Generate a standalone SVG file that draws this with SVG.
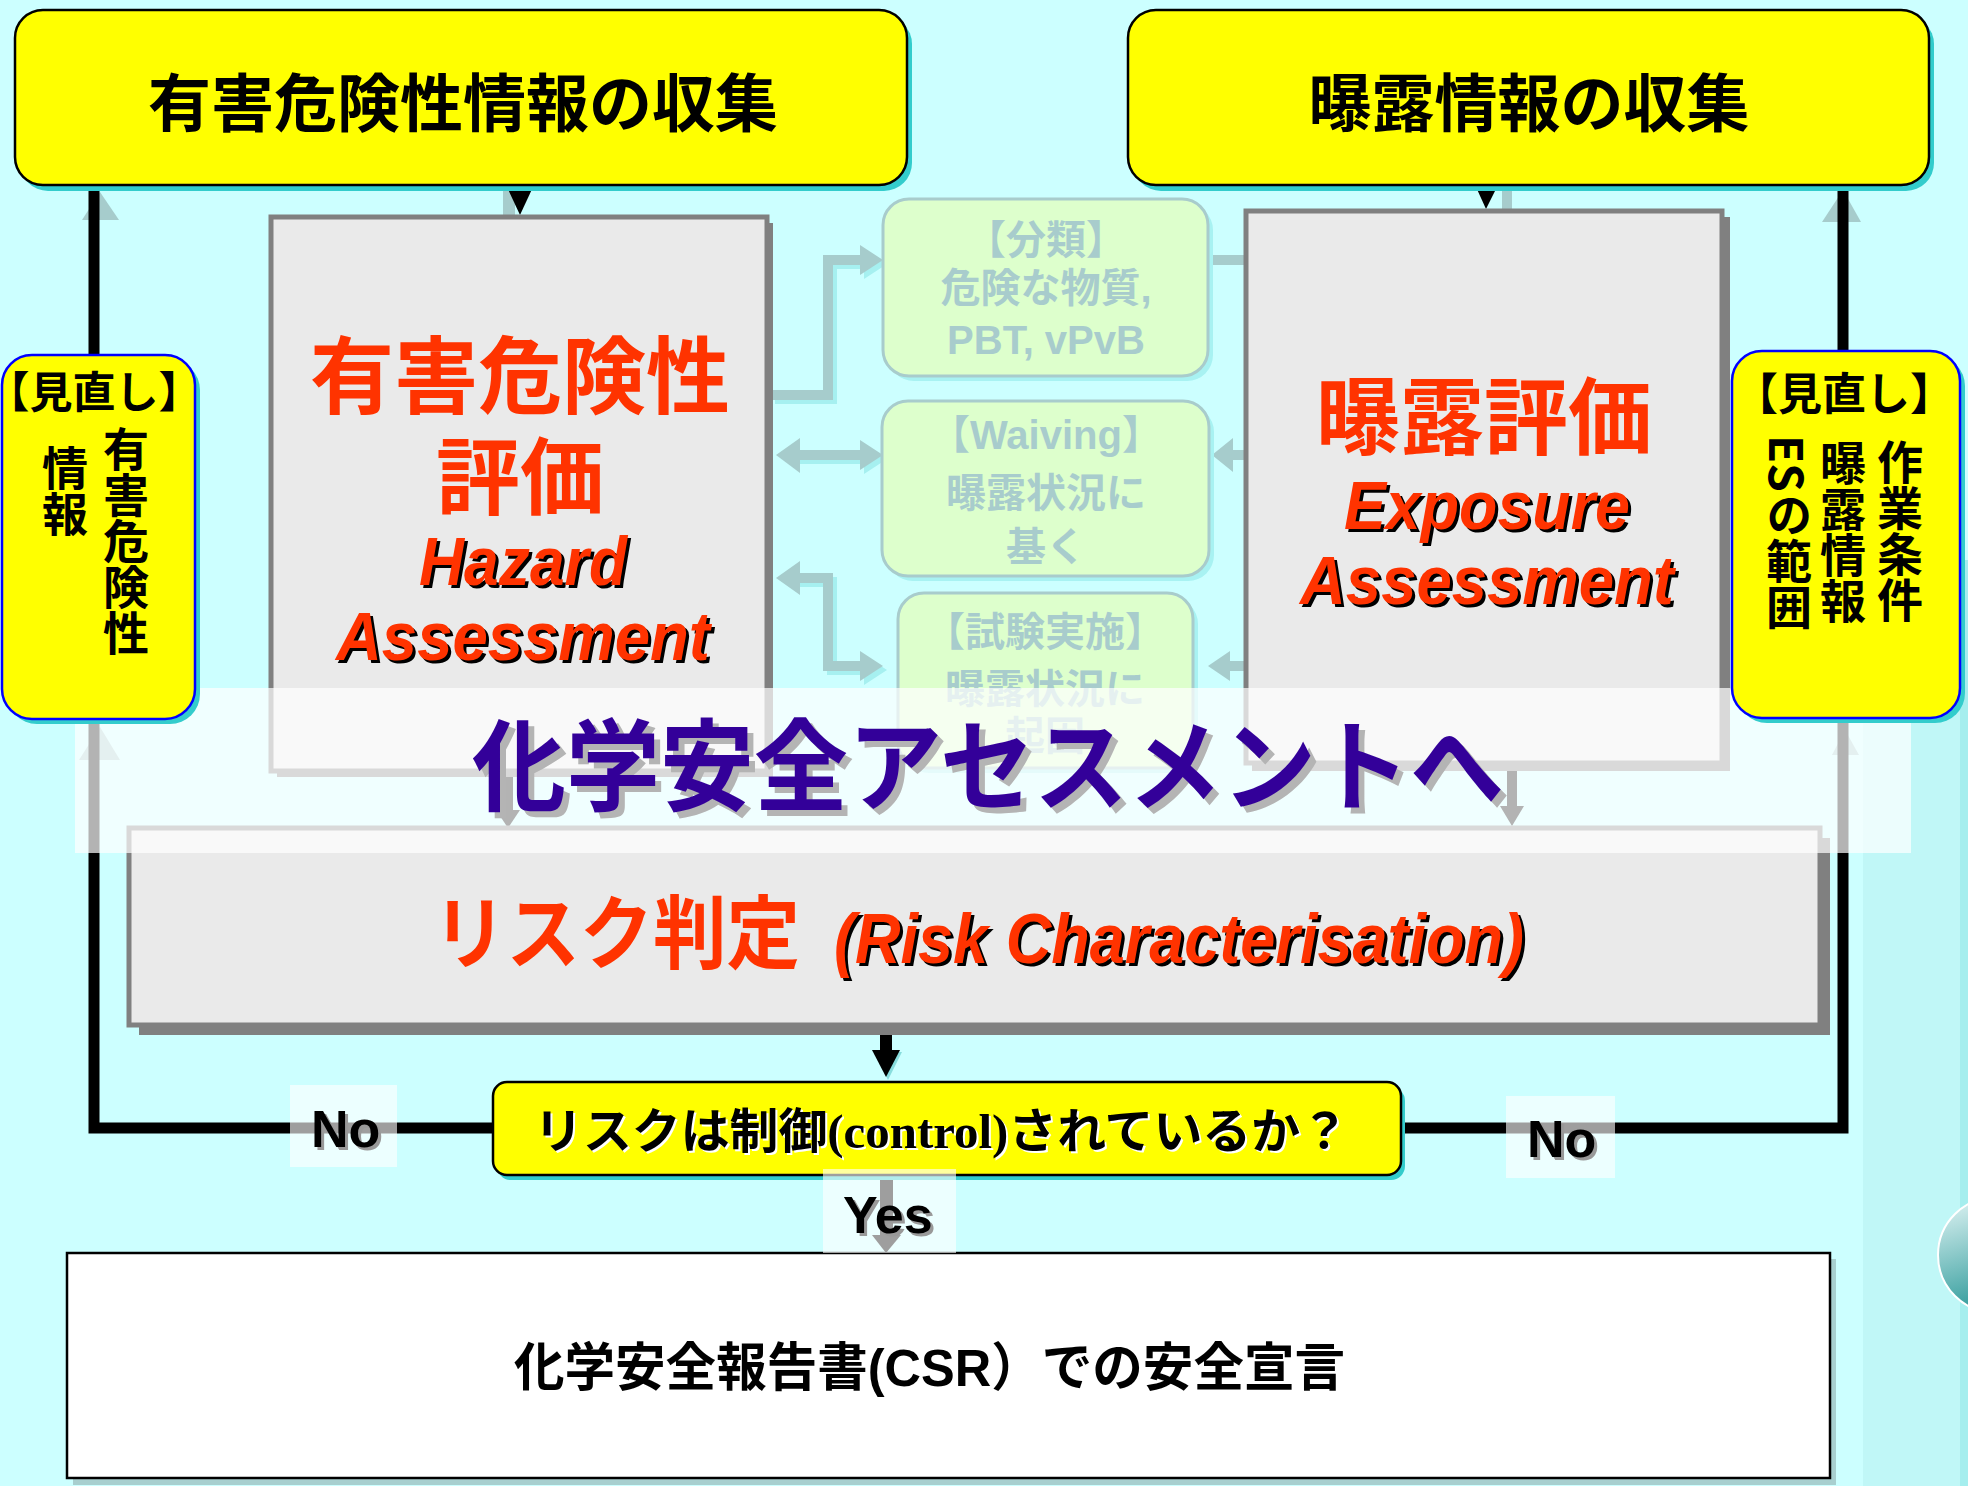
<svg xmlns="http://www.w3.org/2000/svg" width="1968" height="1486" viewBox="0 0 1968 1486">
<defs>
<style>
.ybox{fill:#FFFF00;stroke:#000;stroke-width:2.5}
.tsh{fill:#33CCCC}
.rbox{fill:#FFFF00;stroke:#0000FF;stroke-width:2.5}
.gbox{fill:#EAEAEA;stroke:#808080;stroke-width:5}
.gsh{fill:#808080}
.lbox{fill:#DDFFCC;stroke:#A8CCCC;stroke-width:3}
.lsh{fill:#A8F2F2}
.t{font-family:"Liberation Sans","Noto Sans CJK JP","Noto Sans CJK SC",sans-serif;font-weight:700}
.en{font-family:"Liberation Sans",Arial,sans-serif;font-weight:700;font-style:italic}
.red{fill:#FF3300}
.fade{fill:#A8CCCC;font-size:40px}
.vt{writing-mode:vertical-rl;font-family:"Noto Sans CJK JP","Noto Sans CJK SC",sans-serif;font-weight:700;font-size:46px;fill:#000}
.conn{fill:none;stroke:#000;stroke-width:11}
.fc{fill:none;stroke:#A6CCCC;stroke-width:10}
.fcs{fill:none;stroke:#A6F0F0;stroke-width:10}
.fh{fill:#A6CCCC}
.fhs{fill:#A6F0F0}
.lab{fill:#FFFFFF;fill-opacity:0.62}
.lt{font-family:"Liberation Sans",Arial,sans-serif;font-weight:700;font-size:52px}
</style>
<linearGradient id="ball" x1="0" y1="0" x2="0.3" y2="1"><stop offset="0" stop-color="#E6F7F7"/><stop offset="1" stop-color="#2E9A9A"/></linearGradient>
</defs>

<rect x="0" y="0" width="1968" height="1486" fill="#CCFFFF"/>
<rect x="1863" y="560" width="105" height="926" fill="#C0F7F7"/>
<rect x="1960" y="560" width="8" height="926" fill="#A5EEEE"/>
<circle cx="1996" cy="1255" r="58" fill="url(#ball)" stroke="#FFFFFF" stroke-width="2"/>

<g id="connectors">
  <polygon points="82,220 100,192 119,220" class="fh"/>
  <polygon points="1822,222 1843,190 1861,222" class="fh"/>
  <polygon points="79,760 100,727 120,760" class="fh"/>
  <polygon points="1832,755 1845,730 1859,755" class="fh"/>
  <rect x="503" y="186" width="12" height="31" class="fh"/>
  <rect x="1502" y="186" width="10" height="25" class="fh"/>
  <path d="M493 1128 H94 V186" class="conn"/>
  <path d="M1401 1128 H1843 V186" class="conn"/>
  <polygon points="507,187 533,187 520,215" fill="#000"/>
  <polygon points="1476,187 1497,187 1486,209" fill="#000"/>
  <path d="M775 399 H832 V264 H866" class="fcs"/>
  <polygon points="864,249 887,264 864,279" class="fhs"/>
  <path d="M771 395 H828 V260 H862" class="fc"/>
  <polygon points="860,245 883,260 860,275" class="fh"/>
  <path d="M799 459 H866" class="fcs"/>
  <polygon points="864,444 887,459 864,474" class="fhs"/>
  <path d="M795 455 H862" class="fc"/>
  <polygon points="860,440 883,455 860,470" class="fh"/>
  <polygon points="800,438 776,455 800,473" class="fh"/>
  <path d="M799 582 H832 V670 H866" class="fcs"/>
  <polygon points="864,655 887,670 864,685" class="fhs"/>
  <path d="M795 578 H828 V666 H862" class="fc"/>
  <polygon points="860,651 883,666 860,681" class="fh"/>
  <polygon points="800,561 776,578 800,595" class="fh"/>
  <path d="M1211 260 H1246" class="fc"/>
  <path d="M1230 455 H1246" class="fc"/>
  <polygon points="1233,438 1212,455 1233,472" class="fh"/>
  <path d="M1228 666 H1246" class="fc"/>
  <polygon points="1230,651 1208,666 1230,681" class="fh"/>
  <rect x="503" y="777" width="10" height="35" fill="#000"/>
  <polygon points="496,810 520,810 508,828" fill="#000"/>
  <rect x="1507" y="771" width="10" height="37" fill="#000"/>
  <polygon points="1500,806 1524,806 1512,826" fill="#000"/>
  <polygon points="874,1052 902,1052 888,1080" fill="#88DDDD"/>
  <rect x="880" y="1030" width="12" height="22" fill="#000"/>
  <polygon points="872,1050 900,1050 886,1077" fill="#000"/>
  <rect x="880" y="1176" width="13" height="60" fill="#000"/>
  <polygon points="872,1235 901,1235 886,1253" fill="#000"/>
</g>

<g id="hazard-info">
  <rect x="20" y="16" width="892" height="175" rx="28" class="tsh"/>
  <rect x="15" y="10" width="892" height="175" rx="28" class="ybox"/>
  <text class="t" x="463" y="126" font-size="63" text-anchor="middle" fill="#000">有害危険性情報の収集</text>
</g>

<g id="exposure-info">
  <rect x="1133" y="16" width="801" height="175" rx="28" class="tsh"/>
  <rect x="1128" y="10" width="801" height="175" rx="28" class="ybox"/>
  <text class="t" x="1529" y="126" font-size="63" text-anchor="middle" fill="#000">曝露情報の収集</text>
</g>

<g id="hazard-assessment">
  <rect x="277" y="223" width="496" height="554" class="gsh"/>
  <rect x="271" y="217" width="496" height="554" class="gbox"/>
  <text class="t red" x="520" y="407" font-size="84" text-anchor="middle">有害危険性</text>
  <text class="t red" x="520" y="508" font-size="84" text-anchor="middle">評価</text>
  <text class="en" x="422" y="588" font-size="68" textLength="208" lengthAdjust="spacingAndGlyphs" fill="#000">Hazard</text>
  <text class="en red" x="419" y="585" font-size="68" textLength="208" lengthAdjust="spacingAndGlyphs">Hazard</text>
  <text class="en" x="339" y="663" font-size="68" textLength="374" lengthAdjust="spacingAndGlyphs" fill="#000">Assessment</text>
  <text class="en red" x="336" y="660" font-size="68" textLength="374" lengthAdjust="spacingAndGlyphs">Assessment</text>
</g>

<g id="exposure-assessment">
  <rect x="1252" y="217" width="478" height="554" class="gsh"/>
  <rect x="1246" y="211" width="476" height="552" class="gbox"/>
  <text class="t red" x="1484" y="448" font-size="84" text-anchor="middle">曝露評価</text>
  <text class="en" x="1347" y="532" font-size="68" textLength="286" lengthAdjust="spacingAndGlyphs" fill="#000">Exposure</text>
  <text class="en red" x="1344" y="529" font-size="68" textLength="286" lengthAdjust="spacingAndGlyphs">Exposure</text>
  <text class="en" x="1303" y="607" font-size="68" textLength="374" lengthAdjust="spacingAndGlyphs" fill="#000">Assessment</text>
  <text class="en red" x="1300" y="604" font-size="68" textLength="374" lengthAdjust="spacingAndGlyphs">Assessment</text>
</g>

<g id="classification">
  <rect x="888" y="204" width="325" height="177" rx="26" class="lsh"/>
  <rect x="883" y="199" width="325" height="177" rx="26" class="lbox"/>
  <text class="t fade" x="1046" y="254" text-anchor="middle">【分類】</text>
  <text class="t fade" x="1046" y="302" text-anchor="middle">危険な物質,</text>
  <text class="t fade" x="1046" y="354" text-anchor="middle">PBT, vPvB</text>
</g>

<g id="waiving">
  <rect x="887" y="406" width="327" height="175" rx="26" class="lsh"/>
  <rect x="882" y="401" width="327" height="175" rx="26" class="lbox"/>
  <text class="t fade" x="1046" y="449" text-anchor="middle">【Waiving】</text>
  <text class="t fade" x="1046" y="507" text-anchor="middle">曝露状況に</text>
  <text class="t fade" x="1046" y="561" text-anchor="middle">基く</text>
</g>

<g id="testing">
  <rect x="903" y="598" width="295" height="175" rx="26" class="lsh"/>
  <rect x="898" y="593" width="295" height="175" rx="26" class="lbox"/>
  <text class="t fade" x="1045" y="646" text-anchor="middle">【試験実施】</text>
  <text class="t fade" x="1045" y="703" text-anchor="middle">曝露状況に</text>
  <text class="t fade" x="1045" y="750" text-anchor="middle">起因</text>
</g>

<g id="risk-characterisation">
  <rect x="139" y="838" width="1691" height="197" class="gsh"/>
  <rect x="129" y="828" width="1691" height="197" class="gbox"/>
  <text class="t red" x="433" y="962" font-size="80" textLength="367" lengthAdjust="spacingAndGlyphs">リスク判定</text>
  <text class="en" x="837" y="966" font-size="70" textLength="690" lengthAdjust="spacingAndGlyphs" fill="#000">(Risk Characterisation)</text>
  <text class="en red" x="834" y="963" font-size="70" textLength="690" lengthAdjust="spacingAndGlyphs">(Risk Characterisation)</text>
</g>

<g id="decision">
  <rect x="497" y="1087" width="908" height="93" rx="14" class="tsh"/>
  <rect x="493" y="1082" width="908" height="93" rx="14" class="ybox"/>
  <text x="536" y="1150" font-size="48" textLength="815" lengthAdjust="spacingAndGlyphs" fill="#FFFFFF" font-weight="700"><tspan font-family="Noto Sans CJK JP, sans-serif">リスクは制御</tspan><tspan font-family="Liberation Serif, serif">(control)</tspan><tspan font-family="Noto Sans CJK JP, sans-serif">されているか？</tspan></text>
  <text x="534" y="1148" font-size="48" textLength="815" lengthAdjust="spacingAndGlyphs" fill="#000" font-weight="700"><tspan font-family="Noto Sans CJK JP, sans-serif">リスクは制御</tspan><tspan font-family="Liberation Serif, serif">(control)</tspan><tspan font-family="Noto Sans CJK JP, sans-serif">されているか？</tspan></text>
</g>

<g id="csr">
  <rect x="73" y="1259" width="1763" height="226" fill="#A8CFCF"/>
  <rect x="67" y="1253" width="1763" height="225" fill="#FFFFFF" stroke="#000" stroke-width="2.5"/>
  <text class="t" x="514" y="1386" font-size="52" textLength="831" lengthAdjust="spacingAndGlyphs" fill="#000">化学安全報告書(CSR）での安全宣言</text>
</g>

<g id="overlay">
  <rect x="75" y="688" width="1836" height="165" fill="#FFFFFF" fill-opacity="0.7"/>
  <text class="t" x="478" y="809" font-size="100" textLength="1032" lengthAdjust="spacingAndGlyphs" fill="#B4B4B4">化学安全アセスメントへ</text>
  <text class="t" x="472" y="803" font-size="100" textLength="1032" lengthAdjust="spacingAndGlyphs" fill="#330099">化学安全アセスメントへ</text>
</g>

<g id="review-hazard">
  <rect x="7" y="360" width="193" height="364" rx="30" class="tsh"/>
  <rect x="2" y="355" width="193" height="364" rx="30" class="rbox"/>
  <text class="t" x="94" y="408" font-size="43" text-anchor="middle" fill="#000">【見直し】</text>
  <text class="vt" x="126" y="426">有害危険性</text>
  <text class="vt" x="65" y="445">情報</text>
</g>

<g id="review-exposure">
  <rect x="1737" y="356" width="228" height="367" rx="30" class="tsh"/>
  <rect x="1732" y="351" width="228" height="367" rx="30" class="rbox"/>
  <text class="t" x="1844" y="410" font-size="44" text-anchor="middle" fill="#000">【見直し】</text>
  <text class="vt" x="1900" y="439" font-size="45">作業条件</text>
  <text class="vt" x="1843" y="440" font-size="45">曝露情報</text>
  <text class="vt" x="1789" y="435" font-size="45">ESの範囲</text>
</g>

<g id="label-no-left">
  <rect x="290" y="1085" width="107" height="82" class="lab"/>
  <text class="lt" x="314" y="1150" fill="#999999">No</text>
  <text class="lt" x="311" y="1147" fill="#000">No</text>
</g>
<g id="label-no-right">
  <rect x="1506" y="1096" width="109" height="82" class="lab"/>
  <text class="lt" x="1530" y="1160" fill="#999999">No</text>
  <text class="lt" x="1527" y="1157" fill="#000">No</text>
</g>
<g id="label-yes">
  <rect x="823" y="1169" width="133" height="84" class="lab"/>
  <text class="lt" x="846" y="1236" fill="#999999">Yes</text>
  <text class="lt" x="843" y="1233" fill="#000">Yes</text>
</g>
</svg>
